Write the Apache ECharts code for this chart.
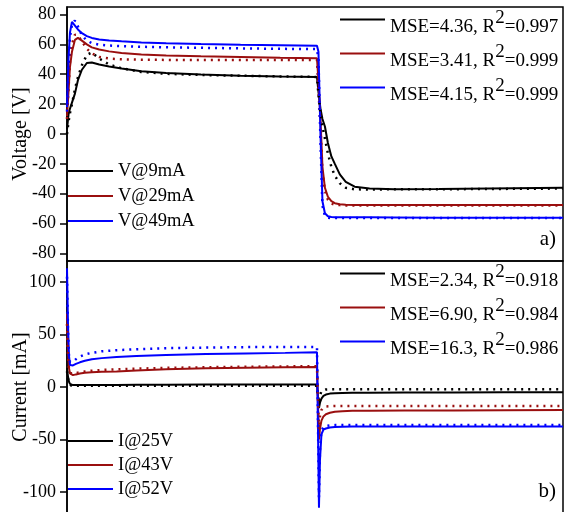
<!DOCTYPE html>
<html>
<head>
<meta charset="utf-8">
<script src="https://cdn.jsdelivr.net/npm/echarts@6/dist/echarts.min.js"></script>
<style>
  html, body { margin: 0; padding: 0; background: #fff; }
  #chart { width: 566px; height: 512px; }
</style>
</head>
<body>
<div id="chart"></div>
<script>
// time axis (arbitrary units, step at ~505)
const timeV = [0, 3, 6, 10, 16, 22, 30, 40, 50, 65, 85, 110, 150, 200, 270, 350, 430, 504,
  507, 511, 515, 520, 526, 533, 540, 550, 562, 580, 610, 660, 750, 850, 1000];
const timeI = [0, 2, 4, 6, 8, 12, 18, 26, 36, 50, 70, 100, 140, 200, 280, 360, 440, 504,
  506, 508, 510, 513, 517, 522, 530, 540, 555, 575, 610, 680, 780, 880, 1000];

// voltage panel, measured (solid) and model (dotted)
const v9 = [3, 13, 17, 21, 27, 36, 43, 47.5, 47.8, 46.5, 45.2, 43.8, 42, 40.8, 39.8, 39, 38.5, 38.2,
  28, 17, 10, 5, -6, -15, -20, -27, -32, -35.3, -36.5, -37, -36.8, -36.5, -36];
const v9Fit = [0, 8, 14, 20, 30, 38, 46, 53, 54.5, 50.5, 46.5, 44, 41.5, 40.3, 39.5, 39, 38.5, 38.2,
  26, 14, 5, -3, -13, -22, -28, -33, -36, -37, -37.2, -37, -37, -36.8, -36.5];
const v29 = [12, 28, 45, 55, 63, 64.3, 62.5, 60, 58, 56.5, 55.3, 54.2, 53.2, 52.5, 52, 51.5, 51, 50.7,
  35, 10, -22, -36, -42, -45, -46.3, -47, -47.3, -47.5, -47.5, -47.5, -47.5, -47.5, -47.5];
const v29Fit = [10, 30, 48, 60, 66.5, 66, 62, 57, 54, 51.5, 50.5, 50, 49.7, 49.6, 49.5, 49.5, 49.5, 49.5,
  30, 5, -25, -38, -44, -46.5, -47.3, -47.6, -47.8, -47.8, -47.8, -47.8, -47.8, -47.8, -47.8];
const v49 = [18, 50, 68, 75, 72.5, 70, 67.5, 65.5, 64.3, 63.3, 62.5, 62, 61.3, 60.8, 60.3, 59.8, 59.4, 59,
  55, 0, -45, -53, -55, -55.5, -55.7, -55.7, -55.8, -55.8, -55.8, -55.9, -56, -56, -56];
const v49Fit = [15, 45, 65, 73, 76, 72, 66, 62.5, 60.8, 59.8, 59.2, 58.8, 58.4, 58, 57.7, 57.3, 57, 56.8,
  50, -5, -48, -55, -56, -56.3, -56.3, -56.3, -56.3, -56.3, -56.3, -56.3, -56.3, -56.3, -56.3];

// current panel
const i25 = [18, 10, 5, 3, 2, 1.8, 1.8, 1.8, 1.8, 1.9, 2, 2, 2.1, 2.2, 2.3, 2.4, 2.5, 2.5,
  2.5, -20, -15, -11, -8.5, -7.2, -6.3, -5.9, -5.6, -5.5, -5.4, -5.3, -5.2, -5.1, -5];
const i25Fit = [15, 8, 4, 2.5, 1.5, 1.2, 1.1, 1.1, 1.1, 1.1, 1.1, 1.1, 1.1, 1.1, 1.1, 1.1, 1.1, 1.1,
  1.1, -15, -8, -4, -2.8, -2.4, -2.2, -2.2, -2.2, -2.2, -2.2, -2.2, -2.2, -2.2, -2.2];
const i43 = [70, 35, 18, 13, 11.5, 11.3, 12, 12.8, 13.5, 14, 14.5, 14.8, 15.8, 16.8, 17.8, 18.3, 18.7, 19,
  19, -50, -40, -32, -28, -26, -24.5, -23.5, -23, -22.7, -22.5, -22.4, -22.3, -22.1, -22];
const i43Fit = [60, 30, 17, 13.5, 12.5, 12.5, 13.2, 14, 14.8, 15.5, 16.2, 16.8, 17.5, 18.2, 18.8, 19.3, 19.6, 19.8,
  19.8, -40, -28, -22, -19.5, -18.5, -18.2, -18, -18, -18, -18, -18, -18, -18, -18];
const i52 = [113, 60, 30, 21, 19.5, 20.5, 22, 23.5, 25, 26.5, 27.5, 28.5, 29.5, 30.5, 31.5, 32, 32.5, 33,
  33, -115, -70, -45, -40.5, -39.5, -38.5, -38, -37.8, -37.6, -37.5, -37.5, -37.5, -37.5, -37.5];
const i52Fit = [105, 55, 30, 24, 23, 24, 26.5, 29, 31, 32.5, 34, 35, 36, 37, 37.5, 38, 38, 38,
  38, -105, -60, -42, -38, -37, -36.5, -36.3, -36.3, -36.3, -36.3, -36.3, -36.3, -36.3, -36.3];

const namesV = ["V@9mA", "V@29mA", "V@49mA"];
const namesI = ["I@25V", "I@43V", "I@52V"];
const mseV = ["4.36", "3.41", "4.15"];
const r2V = ["0.997", "0.999", "0.999"];
const mseI = ["2.34", "6.90", "16.3"];
const r2I = ["0.918", "0.984", "0.986"];

const ticksV = [-80, -60, -40, -20, 0, 20, 40, 60, 80];
const ticksI = [-100, -50, 0, 50, 100];

const colors = ["#000000", "#9a0f0f", "#0000ff"];
const FONT = "Liberation Serif";

const fitName = (m, r) => "MSE=" + m + ", R²=" + r;
const fitNamesV = mseV.map((m, i) => fitName(m, r2V[i]));
const fitNamesI = mseI.map((m, i) => fitName(m, r2I[i]));

function line(name, t, v, color, dotted, idx) {
  return {
    name: name,
    type: "line",
    xAxisIndex: idx,
    yAxisIndex: idx,
    data: t.map((x, i) => [x, v[i]]),
    symbol: "none",
    z: dotted ? 3 : 2,
    itemStyle: { color: color },
    lineStyle: { color: color, width: dotted ? 2.5 : 2, type: dotted ? [2, 5] : "solid" },
  };
}

const solidV = [v9, v29, v49];
const fitV = [v9Fit, v29Fit, v49Fit];
const solidI = [i25, i43, i52];
const fitI = [i25Fit, i43Fit, i52Fit];

const series = [];
solidV.forEach((d, i) => series.push(line(namesV[i], timeV, d, colors[i], false, 0)));
fitV.forEach((d, i) => series.push(line(fitNamesV[i], timeV, d, colors[i], true, 0)));
solidI.forEach((d, i) => series.push(line(namesI[i], timeI, d, colors[i], false, 1)));
fitI.forEach((d, i) => series.push(line(fitNamesI[i], timeI, d, colors[i], true, 1)));

const txt = { fontFamily: FONT, fontSize: 18.5, color: "#000" };
const richFit = {
  a: { fontFamily: FONT, fontSize: 19, color: "#000", padding: [16, 0, 0, 0] },
  s: { fontFamily: FONT, fontSize: 19, color: "#000", padding: [0, 0, 2, 0] },
};
const fitFormatter = (n) => {
  const parts = n.split("²");
  return "{a|" + parts[0] + "}{s|2}{a|" + parts[1] + "}";
};

function nameLegend(data, top, gap) {
  return {
    data: data, orient: "vertical", left: 67, top: top, padding: 0,
    itemWidth: 45, itemHeight: 20, itemGap: gap,
    textStyle: Object.assign({ lineHeight: 20 }, txt),
    itemStyle: { opacity: 0, borderWidth: 0 },
    lineStyle: { type: "solid", width: 2 },
  };
}
function fitLegend(data, top) {
  return {
    data: data, orient: "vertical", left: 339, top: top, padding: 0,
    itemWidth: 45, itemHeight: 14, itemGap: 6,
    formatter: fitFormatter,
    textStyle: { rich: richFit },
    itemStyle: { opacity: 0, borderWidth: 0 },
    lineStyle: { type: "solid", width: 2 },
  };
}

function yAxis(idx, min, max, ticks, name, gap) {
  return {
    type: "value", gridIndex: idx, min: min, max: max,
    name: name, nameLocation: "middle", nameGap: gap, nameMoveOverlap: false,
    nameTextStyle: { fontFamily: FONT, fontSize: 20, color: "#000" },
    axisLine: { show: true, lineStyle: { color: "#000", width: 1.5 } },
    axisTick: { show: true, length: 7, customValues: ticks, lineStyle: { color: "#000", width: 1.5 } },
    axisLabel: { customValues: ticks, margin: 11, fontFamily: FONT, fontSize: 18, color: "#000" },
    splitLine: { show: false },
  };
}
function xAxis(idx) {
  return {
    type: "value", gridIndex: idx, min: 0, max: 1000,
    axisLine: { show: false }, axisTick: { show: false },
    axisLabel: { show: false }, splitLine: { show: false },
  };
}

const gridBase = { left: 67, right: 3, show: true, borderColor: "#000", borderWidth: 1.5,
  containLabel: false, outerBoundsMode: "none" };

const chart = echarts.init(document.getElementById("chart"));
chart.setOption({
  animation: false,
  backgroundColor: "#fff",
  grid: [
    Object.assign({ top: 7, height: 254 }, gridBase),
    Object.assign({ top: 261, height: 252 }, gridBase),
  ],
  xAxis: [xAxis(0), xAxis(1)],
  yAxis: [
    yAxis(0, -85, 85, ticksV, "Voltage [V]", 36),
    yAxis(1, -120, 120, ticksI, "Current [mA]", 36),
  ],
  legend: [
    nameLegend(namesV, 161, 5),
    fitLegend(fitNamesV, 9),
    nameLegend(namesI, 431, 4),
    fitLegend(fitNamesI, 263),
  ],
  title: [
    { text: "a)", right: 10, top: 229, padding: 0, textStyle: { fontFamily: FONT, fontSize: 21, fontWeight: "normal", color: "#000" } },
    { text: "b)", right: 10, top: 481, padding: 0, textStyle: { fontFamily: FONT, fontSize: 21, fontWeight: "normal", color: "#000" } },
  ],
  series: series,
});
window.addEventListener("resize", chart.resize);
</script>
</body>
</html>
